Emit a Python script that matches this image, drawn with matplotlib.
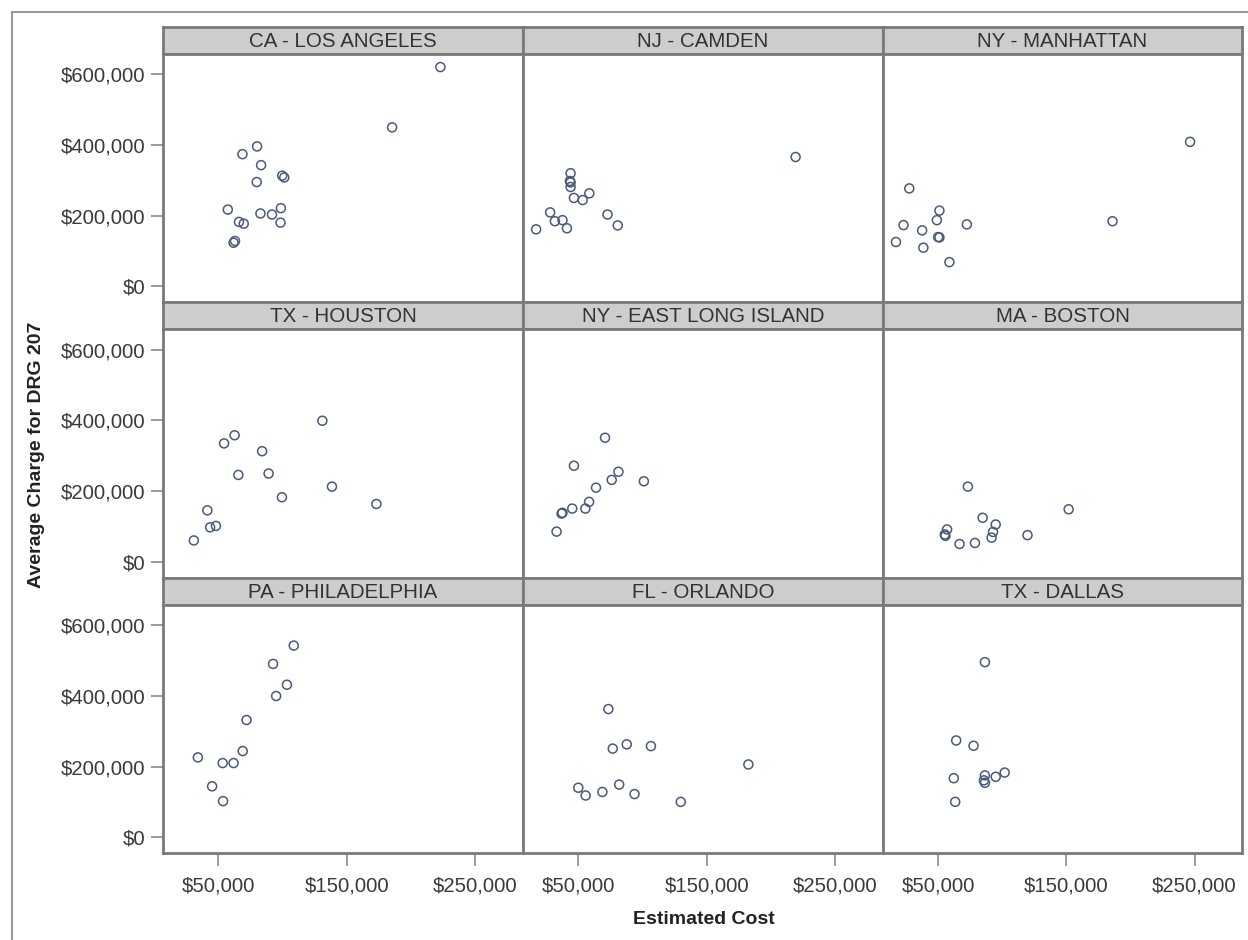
import matplotlib
matplotlib.use("Agg")
import matplotlib.pyplot as plt
from matplotlib.ticker import FuncFormatter
from matplotlib.lines import Line2D

plt.rcParams['font.family'] = ['Liberation Sans', 'DejaVu Sans']

# panel titles, in reading order
cities = ["CA - LOS ANGELES", "NJ - CAMDEN", "NY - MANHATTAN",
          "TX - HOUSTON", "NY - EAST LONG ISLAND", "MA - BOSTON",
          "PA - PHILADELPHIA", "FL - ORLANDO", "TX - DALLAS"]

la_cost = [222750, 185200, 80200, 68800, 83300, 79900, 99700, 101300, 57400,
           82800, 91800, 98700, 98400, 66100, 69800, 61900, 63000]
la_charge = [621000, 450000, 396000, 374000, 343000, 295000, 313000, 308000, 217000,
             206000, 203000, 221000, 180000, 182000, 177000, 123000, 128000]

camden_cost = [219000, 44000, 43500, 44000, 44000, 46600, 53400, 58600, 28100,
               31800, 37700, 41200, 17200, 72700, 80700]
camden_charge = [366000, 320000, 298000, 294000, 281000, 250000, 244000, 263000, 209000,
                 184000, 187000, 164000, 161000, 203000, 172000]

manhattan_cost = [246500, 186000, 27500, 51000, 49000, 72400, 23000, 37500, 50000,
                  51000, 17100, 38500, 58800]
manhattan_charge = [409000, 184000, 277000, 214000, 187000, 175000, 173000, 158000, 139000,
                    138000, 125000, 109000, 68000]

houston_cost = [130950, 62700, 54500, 84100, 65600, 89150, 138400, 99500, 173000,
                41500, 43650, 48150, 30950]
houston_charge = [399000, 358000, 335000, 313000, 246000, 250000, 213000, 183000, 164000,
                  146000, 98000, 102000, 61000]

eli_cost = [70800, 46600, 81250, 76000, 101000, 63800, 58400, 55500, 45300,
            37000, 37700, 33100]
eli_charge = [351000, 272000, 255000, 232000, 228000, 210000, 170000, 151000, 151000,
              137000, 139000, 86000]

boston_cost = [73200, 151800, 84700, 94900, 92800, 91700, 119700, 57000, 55200,
               55700, 66700, 78700]
boston_charge = [213000, 149000, 125000, 106000, 85000, 69000, 76000, 92000, 78000,
                 74000, 51000, 54000]

phila_cost = [108700, 92600, 103400, 95000, 72000, 69000, 34100, 53400, 61900,
              45200, 53700]
phila_charge = [543000, 491000, 432000, 400000, 332000, 244000, 226000, 210000, 210000,
                144000, 102000]

orlando_cost = [73400, 76800, 87700, 106500, 182300, 50000, 55700, 68750, 81800,
                93750, 129700]
orlando_charge = [363000, 251000, 263000, 258000, 206000, 140000, 118000, 128000, 149000,
                  122000, 100000]

dallas_cost = [86500, 64100, 77600, 62200, 63300, 86500, 85700, 86500, 94900, 101900]
dallas_charge = [496000, 274000, 259000, 167000, 100000, 175000, 161000, 154000, 171000,
                 183000]

costs = [la_cost, camden_cost, manhattan_cost, houston_cost, eli_cost,
         boston_cost, phila_cost, orlando_cost, dallas_cost]
charges = [la_charge, camden_charge, manhattan_charge, houston_charge, eli_charge,
           boston_charge, phila_charge, orlando_charge, dallas_charge]

x_ticks = [50000, 150000, 250000]
y_ticks = [0, 200000, 400000, 600000]

W, H = 1248, 940
fig = plt.figure(figsize=(W / 100, H / 100), dpi=100)


def box(x0, y0, x1, y1):
    """pixel box (top-left origin) -> figure fraction rect"""
    return [x0 / W, 1 - y1 / H, (x1 - x0) / W, (y1 - y0) / H]


col_edges = [163, 523, 883, 1242]
strip_tops = [27, 302, 578]
strip_h = 27
plot_bottoms = [302, 578, 853]

frame_col = '#7a7a7a'
money = FuncFormatter(lambda v, p: "${:,.0f}".format(v))

for i, city in enumerate(cities):
    r, c = divmod(i, 3)
    x0, x1 = col_edges[c], col_edges[c + 1]
    top = strip_tops[r]

    # header strip
    sax = fig.add_axes(box(x0, top, x1, top + strip_h))
    sax.set_facecolor('#cdcdcd')
    sax.set_xticks([])
    sax.set_yticks([])
    for sp in sax.spines.values():
        sp.set_color(frame_col)
        sp.set_linewidth(2)
    sax.text(0.5, 0.47, city, ha='center', va='center', fontsize=14.8,
             color='#333333', transform=sax.transAxes)

    ax = fig.add_axes(box(x0, top + strip_h, x1, plot_bottoms[r]))
    ax.scatter(costs[i], charges[i], s=42, facecolors='none',
               edgecolors='#4b5a7a', linewidths=1.1, zorder=3)
    ax.set_xlim(7000, 287000)
    ax.set_ylim(-45000, 658000)
    for sp in ax.spines.values():
        sp.set_color(frame_col)
        sp.set_linewidth(2)
    ax.set_xticks(x_ticks)
    ax.set_yticks(y_ticks)
    ax.xaxis.set_major_formatter(money)
    ax.yaxis.set_major_formatter(money)
    ax.tick_params(direction='out', length=9, width=1.2, color='#8a8a8a',
                   labelsize=14.6, labelcolor='#3a3a3a', pad=4)
    if c != 0:
        ax.tick_params(axis='y', left=False, labelleft=False)
    if r != 2:
        ax.tick_params(axis='x', bottom=False, labelbottom=False)
    else:
        ax.tick_params(axis='x', pad=8)

fig.text(37 / W, 1 - 455 / H, "Average Charge for DRG 207", rotation=90,
         ha='center', va='center', fontsize=14, fontweight='bold', color='#222222')
fig.text(704 / W, 1 - 920 / H, "Estimated Cost", ha='center', va='center',
         fontsize=14, fontweight='bold', color='#222222')

# outer frame lines (top and left)
fig.add_artist(Line2D([12 / W, 1], [1 - 12 / H, 1 - 12 / H], transform=fig.transFigure,
                      color='#9a9a9a', linewidth=1.5))
fig.add_artist(Line2D([12 / W, 12 / W], [0, 1 - 12 / H], transform=fig.transFigure,
                      color='#9a9a9a', linewidth=1.5))

fig.savefig("out.png", dpi=100)
